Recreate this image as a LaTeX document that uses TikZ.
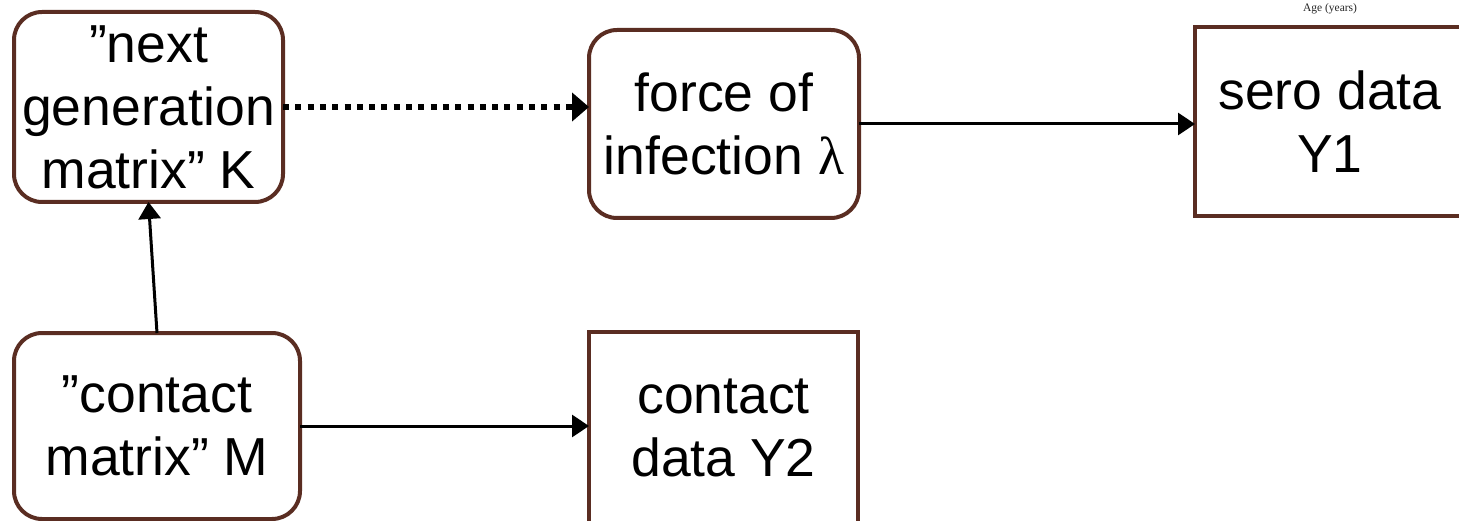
\documentclass[tikz,border=0pt]{standalone}
\usepackage{fontspec}
\setmainfont{Liberation Sans}
\newfontfamily\serifface{Liberation Serif}
\usetikzlibrary{arrows.meta}
\definecolor{boxbrown}{HTML}{5A2D22}
\begin{document}
\begin{tikzpicture}[x=1pt,y=-1pt,
  every node/.style={inner sep=0pt, outer sep=0pt, align=center,
    font=\fontsize{53.5}{63}\selectfont},
  model/.style={draw=boxbrown, line width=4pt, rounded corners=28pt},
  datum/.style={draw=boxbrown, line width=4pt},
  link/.style={line width=3pt, -{Triangle[length=17pt,width=22pt]}},
  hint/.style={line width=6pt, dash pattern=on 6pt off 6.3pt,
    -{Triangle[length=17pt,width=28pt]}}]
\useasboundingbox (0,0) rectangle (1459,521);
\clip (0,0) rectangle (1459,521);

% model quantities (rounded) and observed data (square)
\node[model, minimum width=269pt, minimum height=190pt] (K) at (148.5,107)
  {”next\\generation\\matrix” K};
\node[model, minimum width=270pt, minimum height=188pt] (foi) at (724,124)
  {force of\\infection {\serifface λ}};
\node[datum, minimum width=270pt, minimum height=189pt] (Y1) at (1330,122)
  {sero data\\Y1};
\node[model, minimum width=286pt, minimum height=186pt] (M) at (157,426)
  {”contact\\matrix” M};
\node[datum, minimum width=269pt, minimum height=192pt] (Y2) at (723.5,428)
  {contact\\data Y2};

\node[font=\serifface\fontsize{11.5}{13}\selectfont, text=black!85] (age) at (1330,9)
  {Age (years)};

% dependencies
\draw[hint] (K.east) -- (K.east -| foi.west);
\draw[link] (foi.east) -- (foi.east -| Y1.west);
\draw[link] (M.north) -- (K.south);
\draw[link] (M.east) -- (M.east -| Y2.west);
\end{tikzpicture}
\end{document}
